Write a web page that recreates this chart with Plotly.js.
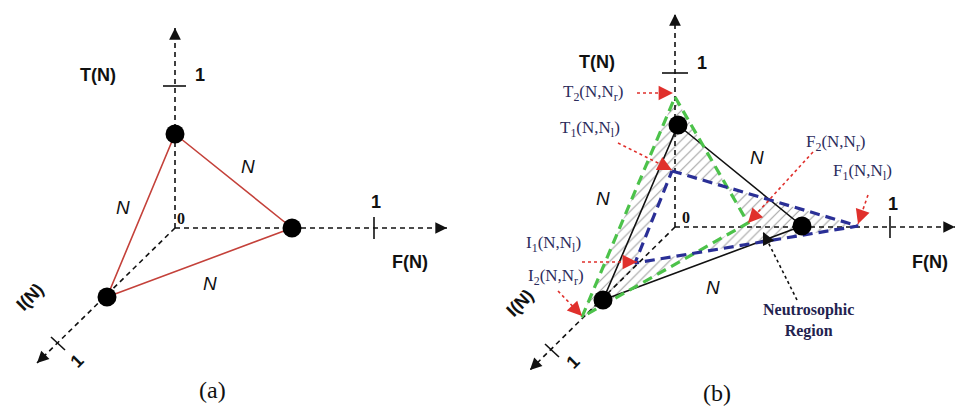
<!DOCTYPE html>
<html>
<head>
<meta charset="utf-8">
<script src="https://cdn.plot.ly/plotly-3.0.1.min.js"></script>
<style>html,body{margin:0;padding:0;background:#fff}#chart{width:958px;height:407px}</style>
</head>
<body>
<div id="chart"></div>
<script>
// ---------- DATA (figure units: x to the right, y downwards) ----------
// Panel (a)
const originA = [175, 228];
const axisTipsA = { T: [175, 28], F: [447, 228], I: [37, 363] };
const unitTicksA = { T: [[163, 86], [186, 86]], F: [[374, 217], [374, 239]], I: [[51, 337], [65, 350]] };
const vertsA_x = [175, 292, 107];   // T(N), F(N), I(N) membership points
const vertsA_y = [134, 228, 297];

// Panel (b)
const originB = [675, 227];
const axisTipsB = { T: [675, 14], F: [955, 227], I: [530, 370] };
const unitTicksB = { T: [[662, 73], [688, 73]], F: [[890, 216], [890, 238]], I: [[545, 344], [559, 357]] };
const vertsB_x = [678, 802, 603];   // N : T, F, I
const vertsB_y = [125, 226, 300];
const rightB_x = [675, 748, 582];   // (N, N_r) : T2, F2, I2
const rightB_y = [97, 223, 317];
const leftB_x = [672, 858, 635];    // (N, N_l) : T1, F1, I1
const leftB_y = [171, 226, 263];

// callout labels of panel (b): text, label centre, arrow start, arrow tip
const calloutText = [
  'T<sub>2</sub>(N,N<sub>r</sub>)', 'T<sub>1</sub>(N,N<sub>l</sub>)',
  'F<sub>2</sub>(N,N<sub>r</sub>)', 'F<sub>1</sub>(N,N<sub>l</sub>)',
  'I<sub>1</sub>(N,N<sub>l</sub>)', 'I<sub>2</sub>(N,N<sub>r</sub>)'
];
const calloutLabel = [[593, 93], [590, 129], [836, 143], [862, 172], [553, 244], [556, 277]];
const calloutStart = [[637, 93], [618, 143], [813, 152], [868, 195], [582, 262], [558, 291]];
const calloutTip = [[673, 93], [672, 170], [748, 223], [858, 224], [637, 262], [582, 316]];
const regionLabel = 'Neutrosophic<br>Region';
const regionLabelPos = [808, 320];
const regionArrow = [[797, 300], [763, 232]];

// axis / edge labels
const axisLabelsA = [['T(N)', 98, 75, 0], ['1', 200, 75, 0], ['1', 376, 202, 0], ['F(N)', 410, 262, 0], ['I(N)', 30, 297, -45], ['1', 77, 361, -45]];
const axisLabelsB = [['T(N)', 597, 62, 0], ['1', 702, 63, 0], ['1', 893, 204, 0], ['F(N)', 930, 262, 0], ['I(N)', 520, 303, -45], ['1', 573, 362, -45]];
const edgeLabelsA = [[248, 166], [123, 207], [210, 283]];
const edgeLabelsB = [[757, 157], [603, 198], [713, 287]];
const zeroLabels = [[181, 218], [686, 217]];
const panelCaptions = [['(a)', 212, 390], ['(b)', 717, 393]];

// ---------- BUILD ----------
const traces = [];
const ann = [];

function closed(xs, ys) { return { x: xs.concat([xs[0]]), y: ys.concat([ys[0]]) }; }

// hatched neutrosophic region (symmetric difference of the two dashed triangles)
{
  const g = closed(rightB_x, rightB_y);
  const b = closed(leftB_x.slice().reverse(), leftB_y.slice().reverse());
  traces.push({
    x: g.x.concat([null], b.x), y: g.y.concat([null], b.y),
    mode: 'lines', fill: 'toself', line: { width: 0 }, hoverinfo: 'skip',
    fillcolor: 'rgba(0,0,0,0)',
    fillpattern: { shape: '/', fgcolor: '#a0a0a0', bgcolor: 'rgba(255,255,255,0)', size: 7, solidity: 0.15 }
  });
}

function arrowLine(s, e, color, dash, headSize) {
  traces.push({ x: [s[0], e[0]], y: [s[1], e[1]], mode: 'lines', hoverinfo: 'skip',
    line: { color: color, width: 1.6, dash: dash } });
  const dx = e[0] - s[0], dy = e[1] - s[1], L = Math.hypot(dx, dy);
  ann.push({ x: e[0], y: e[1], ax: e[0] - 10 * dx / L, ay: e[1] - 10 * dy / L,
    xref: 'x', yref: 'y', axref: 'x', ayref: 'y', text: '', showarrow: true,
    arrowhead: 2, arrowsize: headSize, arrowwidth: 1.8, arrowcolor: color, standoff: 0 });
}

function addAxes(origin, tips, ticks) {
  for (const k of ['T', 'F', 'I']) {
    arrowLine(origin, tips[k], '#111', '5px,4px', 1.3);
    const t = ticks[k];
    traces.push({ x: [t[0][0], t[1][0]], y: [t[0][1], t[1][1]], mode: 'lines', hoverinfo: 'skip',
      line: { color: '#111', width: 1.6 } });
  }
}
addAxes(originA, axisTipsA, unitTicksA);
addAxes(originB, axisTipsB, unitTicksB);

// panel (a) red triangle
{ const c = closed(vertsA_x, vertsA_y);
  traces.push({ x: c.x, y: c.y, mode: 'lines', hoverinfo: 'skip', line: { color: '#c4413a', width: 1.6 } }); }
// panel (b) black triangle
{ const c = closed(vertsB_x, vertsB_y);
  traces.push({ x: c.x, y: c.y, mode: 'lines', hoverinfo: 'skip', line: { color: '#111', width: 1.6 } }); }
// green dashed (N, N_r)
{ const c = closed(rightB_x, rightB_y);
  traces.push({ x: c.x, y: c.y, mode: 'lines', hoverinfo: 'skip', line: { color: '#4cc24a', width: 3.2, dash: '10px,6px' } }); }
// blue dashed (N, N_l)
{ const c = closed(leftB_x, leftB_y);
  traces.push({ x: c.x, y: c.y, mode: 'lines', hoverinfo: 'skip', line: { color: '#2a2f96', width: 3.2, dash: '10px,6px' } }); }

// callout arrows and labels
for (let i = 0; i < calloutText.length; i++) {
  arrowLine(calloutStart[i], calloutTip[i], '#e0302c', 'dot', 1.6);
  ann.push({ x: calloutLabel[i][0], y: calloutLabel[i][1], xref: 'x', yref: 'y', text: calloutText[i],
    showarrow: false, font: { family: 'Liberation Serif', size: 17, color: '#2c2c5c' } });
}
arrowLine(regionArrow[0], regionArrow[1], '#111', 'dot', 1.4);
ann.push({ x: regionLabelPos[0], y: regionLabelPos[1], xref: 'x', yref: 'y', text: '<b>' + regionLabel + '</b>',
  showarrow: false, font: { family: 'Liberation Serif', size: 16, color: '#23234f' } });

// black points
traces.push({ x: vertsA_x.concat(vertsB_x), y: vertsA_y.concat(vertsB_y), mode: 'markers', hoverinfo: 'skip',
  marker: { color: '#000', size: 19 } });

// texts
for (const [t, x, y, a] of axisLabelsA.concat(axisLabelsB)) {
  ann.push({ x, y, xref: 'x', yref: 'y', text: '<b>' + t + '</b>', textangle: a, showarrow: false,
    font: { family: 'Liberation Sans', size: 18, color: '#111' } });
}
for (const [x, y] of edgeLabelsA.concat(edgeLabelsB)) {
  ann.push({ x, y, xref: 'x', yref: 'y', text: '<i>N</i>', showarrow: false,
    font: { family: 'Liberation Sans', size: 19, color: '#111' } });
}
for (const [x, y] of zeroLabels) {
  ann.push({ x, y, xref: 'x', yref: 'y', text: '<b>0</b>', showarrow: false,
    font: { family: 'Liberation Serif', size: 16, color: '#111' } });
}
for (const [t, x, y] of panelCaptions) {
  ann.push({ x, y, xref: 'x', yref: 'y', text: t, showarrow: false,
    font: { family: 'Liberation Serif', size: 24, color: '#111' } });
}

const layout = {
  width: 958, height: 407, margin: { l: 0, r: 0, t: 0, b: 0 },
  paper_bgcolor: '#fff', plot_bgcolor: '#fff', showlegend: false,
  xaxis: { range: [0, 958], visible: false, fixedrange: true },
  yaxis: { range: [407, 0], visible: false, fixedrange: true },
  annotations: ann
};
Plotly.newPlot('chart', traces, layout, { staticPlot: true, displayModeBar: false });
</script>
</body>
</html>
